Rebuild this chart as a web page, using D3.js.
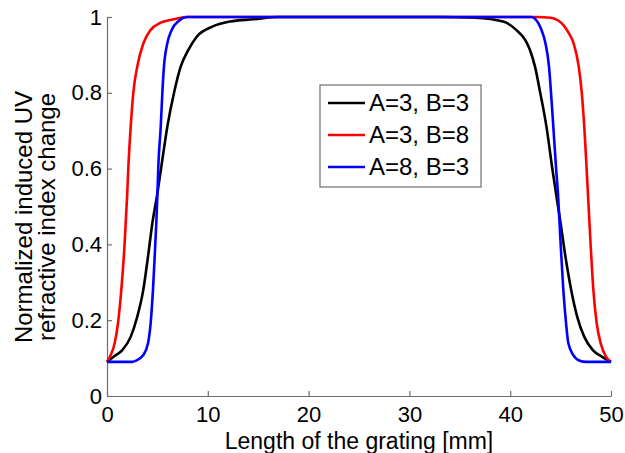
<!DOCTYPE html>
<html>
<head>
<meta charset="utf-8">
<script src="https://cdn.jsdelivr.net/npm/d3@7"></script>
<style>
  body { margin: 0; background: #fff; }
  svg { display: block; font-family: "Liberation Sans", Arial, sans-serif; }
</style>
</head>
<body>
<svg id="chart" width="625" height="453"></svg>
<script>
// tick labels
const xTicks = [0, 10, 20, 30, 40, 50];
const yTicks = [0, 0.2, 0.4, 0.6, 0.8, 1];

// series names
const seriesNames = ["A=3, B=3", "A=3, B=8", "A=8, B=3"];
const seriesColors = ["#000000", "#ff0000", "#0000ff"];

// A=3, B=3 (black)
const blackX = [0, 0.69, 1.52, 2.35, 3.0, 3.6, 4.07, 4.5, 4.97, 5.39, 5.98, 6.65, 7.31, 8.07, 8.9, 10.4, 12.2, 14.5, 17,
  33, 36.5, 39.3, 40.6, 41.5, 41.96, 42.46, 42.98, 43.6, 44.15, 44.57, 45.0, 45.48, 46.05, 46.65, 47.35, 48.2, 49.08, 50];
const blackY = [0.09, 0.104, 0.121, 0.156, 0.209, 0.28, 0.368, 0.456, 0.53, 0.605, 0.71, 0.80, 0.869, 0.913, 0.948, 0.974, 0.988, 0.994, 1,
  1, 0.998, 0.988, 0.966, 0.939, 0.913, 0.869, 0.80, 0.71, 0.605, 0.53, 0.456, 0.368, 0.28, 0.209, 0.156, 0.121, 0.104, 0.09];

// A=3, B=8 (red)
const redX = [0, 0.3, 0.76, 1.09, 1.42, 1.75, 2.0, 2.12, 2.35, 2.61, 3.0, 3.6, 4.33, 5.33, 6.65, 7.8,
  42.6, 44.0, 44.8, 45.3, 45.8, 46.3, 46.8, 47.1, 47.35, 47.57, 47.72, 47.97, 48.25, 48.58, 48.98, 49.5, 50];
const redY = [0.09, 0.104, 0.139, 0.192, 0.28, 0.403, 0.53, 0.605, 0.71, 0.80, 0.869, 0.93, 0.966, 0.985, 0.994, 1,
  1, 0.998, 0.99, 0.978, 0.958, 0.93, 0.869, 0.80, 0.71, 0.605, 0.53, 0.403, 0.28, 0.192, 0.139, 0.104, 0.09];

// A=8, B=3 (blue)
const blueX = [0, 2.5, 2.85, 3.6, 4.07, 4.33, 4.56, 4.73, 4.89, 5.0, 5.09, 5.33, 5.49, 5.65, 5.98, 6.42, 7.14, 7.97,
  42.1, 42.8, 43.1, 43.5, 43.85, 44.05, 44.28, 44.54, 44.75, 45.0, 45.27, 45.54, 45.77, 46.26, 46.9, 47.5, 50];
const blueY = [0.09, 0.09, 0.093, 0.108, 0.139, 0.192, 0.28, 0.368, 0.456, 0.53, 0.605, 0.71, 0.80, 0.869, 0.93, 0.966, 0.99, 1,
  1, 0.983, 0.966, 0.93, 0.869, 0.80, 0.71, 0.605, 0.53, 0.403, 0.28, 0.192, 0.139, 0.108, 0.093, 0.09, 0.09];

const series = [
  {name: seriesNames[0], color: seriesColors[0], xs: blackX, ys: blackY},
  {name: seriesNames[1], color: seriesColors[1], xs: redX, ys: redY},
  {name: seriesNames[2], color: seriesColors[2], xs: blueX, ys: blueY}
];

const svg = d3.select("#chart");
const margin = {top: 17, right: 14, bottom: 57, left: 107};
const width = 625 - margin.left - margin.right;
const height = 453 - margin.top - margin.bottom;
const axisColor = "#6e6e6e";
const fontSize = 24;
const tickFontSize = 22;

const g = svg.append("g").attr("transform", `translate(${margin.left},${margin.top})`);

const x = d3.scaleLinear().domain([0, 50]).range([0, width]);
const y = d3.scaleLinear().domain([0, 1]).range([height, 0]);

// x axis (ticks pointing inward)
const xAxis = g.append("g")
  .attr("transform", `translate(0,${height})`)
  .call(d3.axisBottom(x).tickValues(xTicks).tickFormat(d3.format("~g"))
    .tickSizeInner(-5).tickSizeOuter(0).tickPadding(10));

// y axis
const yAxis = g.append("g")
  .call(d3.axisLeft(y).tickValues(yTicks).tickFormat(d3.format("~g"))
    .tickSizeInner(-5).tickSizeOuter(0).tickPadding(5));

[xAxis, yAxis].forEach(a => {
  a.select(".domain").attr("stroke", axisColor).attr("stroke-width", 1.2);
  a.selectAll(".tick line").attr("stroke", axisColor).attr("stroke-width", 1.2);
  a.selectAll(".tick text").attr("fill", "#000").style("font-size", tickFontSize + "px")
    .style("font-family", '"Liberation Sans", Arial, sans-serif');
});

// curves
const line = d3.line()
  .x(d => x(d[0]))
  .y(d => y(d[1]))
  .curve(d3.curveMonotoneX);

g.selectAll(".curve")
  .data(series)
  .enter().append("path")
  .attr("class", "curve")
  .attr("fill", "none")
  .attr("stroke", d => d.color)
  .attr("stroke-width", 2.6)
  .attr("stroke-linejoin", "round")
  .attr("d", d => line(d.xs.map((v, i) => [v, d.ys[i]])));

// axis labels
svg.append("text")
  .attr("x", margin.left + width / 2)
  .attr("y", 449)
  .attr("text-anchor", "middle")
  .style("font-size", "23px")
  .text("Length of the grating [mm]");

const yLabel = svg.append("text")
  .attr("transform", "translate(0,217) rotate(-90)")
  .attr("text-anchor", "middle")
  .style("font-size", fontSize + "px");
yLabel.append("tspan").attr("x", 0).attr("y", 32).text("Normalized induced UV");
yLabel.append("tspan").attr("x", 0).attr("y", 55).text("refractive index change");

// legend
const legend = svg.append("g").attr("transform", "translate(320,85)");
legend.append("rect")
  .attr("width", 161).attr("height", 102)
  .attr("fill", "#fff")
  .attr("stroke", axisColor).attr("stroke-width", 1.2);

const rows = legend.selectAll(".row")
  .data(series)
  .enter().append("g")
  .attr("class", "row")
  .attr("transform", (d, i) => `translate(0,${18 + i * 32})`);

rows.append("line")
  .attr("x1", 8).attr("x2", 45)
  .attr("stroke", d => d.color)
  .attr("stroke-width", 2.6);

rows.append("text")
  .attr("x", 49)
  .attr("dy", "0.35em")
  .style("font-size", fontSize + "px")
  .text(d => d.name);
</script>
</body>
</html>
